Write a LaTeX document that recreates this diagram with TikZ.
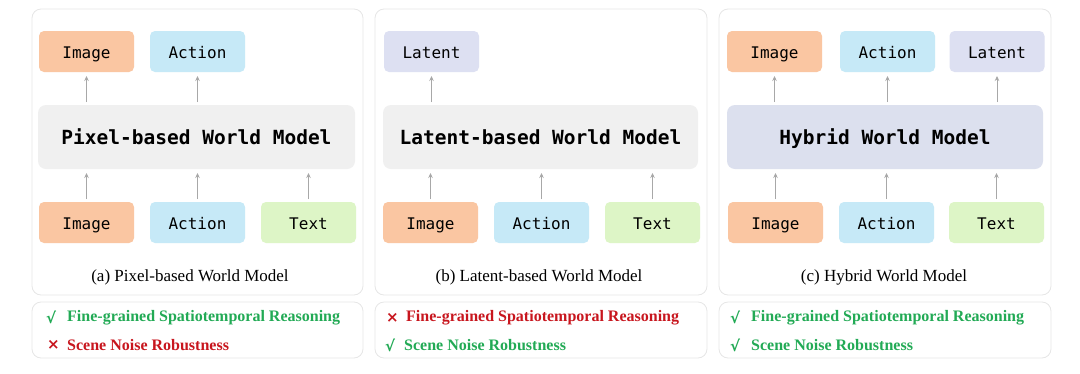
\documentclass[tikz,border=0pt]{standalone}
\usepackage{fontspec}
\setmainfont{Liberation Serif}
\setmonofont{DejaVu Sans Mono}
\newfontfamily\symfont{DejaVu Sans}
\usetikzlibrary{arrows.meta}
\definecolor{cimg}{HTML}{FAC6A2}
\definecolor{cact}{HTML}{C6E9F7}
\definecolor{ctxt}{HTML}{DDF5C6}
\definecolor{clat}{HTML}{DDE0F2}
\definecolor{cmod}{HTML}{F0F0F0}
\definecolor{chyb}{HTML}{DCE0EE}
\definecolor{cpanel}{HTML}{E6E6E6}
\definecolor{carr}{HTML}{A8A8A8}
\definecolor{cgood}{HTML}{22AA55}
\definecolor{cbad}{HTML}{C8161E}
\tikzset{
  panel/.style={draw=cpanel, line width=0.8pt, fill=white, rounded corners=9pt},
  box/.style={rounded corners=5pt, minimum width=95pt, minimum height=41pt, inner sep=0pt, outer sep=0pt,
    text height=16pt, text depth=2pt, font=\fontsize{16}{16}\selectfont\ttfamily},
  model/.style={rounded corners=8pt, minimum height=64pt, inner sep=0pt, outer sep=0pt,
    text height=18pt, text depth=2.8pt, font=\fontsize{19.5}{19.5}\selectfont\ttfamily\bfseries},
  arr/.style={draw=carr, line width=0.9pt, -{Stealth[length=5pt,width=4.5pt]}, shorten >=4pt, shorten <=3pt},
  captxt/.style={font=\fontsize{17}{17}\selectfont},
  prop/.style={anchor=west, inner sep=0pt, font=\fontsize{16}{16}\selectfont\bfseries},
  marksym/.style={anchor=west, inner sep=0pt, font=\fontsize{15}{15}\selectfont\symfont\bfseries}
}
\begin{document}
\begin{tikzpicture}[x=1pt,y=-1pt]
\useasboundingbox (0,0) rectangle (1080,373);
% panels
\draw[panel] (32,9) rectangle (363,295);
\draw[panel] (32,302) rectangle (363,358);
\draw[panel] (375,9) rectangle (707,295);
\draw[panel] (375,302) rectangle (707,358);
\draw[panel] (719,9) rectangle (1051,295);
\draw[panel] (719,302) rectangle (1051,358);

% ---- (a)
\node[box, fill=cimg] (ao1) at (86.5,51.5) {Image};
\node[box, fill=cact] (ao2) at (197.5,51.5) {Action};
\node[model, fill=cmod, minimum width=317pt] (am) at (196.5,137) {Pixel-based World Model};
\node[box, fill=cimg] (ai1) at (86.5,222.5) {Image};
\node[box, fill=cact] (ai2) at (197.5,222.5) {Action};
\node[box, fill=ctxt] (ai3) at (308.5,222.5) {Text};
\draw[arr] (ao1.south |- am.north) -- (ao1.south);
\draw[arr] (ao2.south |- am.north) -- (ao2.south);
\draw[arr] (ai1.north) -- (ai1.north |- am.south);
\draw[arr] (ai2.north) -- (ai2.north |- am.south);
\draw[arr] (ai3.north) -- (ai3.north |- am.south);
\node[captxt] (acap) at (190,277) {(a) Pixel-based World Model};
\node[marksym, text=cgood] (am1) at (46,317.5) {√};
\node[prop, text=cgood] (ap1) at (67,317.5) {Fine-grained Spatiotemporal Reasoning};
\node[marksym, text=cbad] (am2) at (47,345) {×};
\node[prop, text=cbad] (ap2) at (67,345) {Scene Noise Robustness};

% ---- (b)
\node[box, fill=clat] (bo1) at (431.5,51.5) {Latent};
\node[model, fill=cmod, minimum width=315pt] (bm) at (540.5,137) {Latent-based World Model};
\node[box, fill=cimg] (bi1) at (430.5,222.5) {Image};
\node[box, fill=cact] (bi2) at (541.5,222.5) {Action};
\node[box, fill=ctxt] (bi3) at (652.5,222.5) {Text};
\draw[arr] (bo1.south |- bm.north) -- (bo1.south);
\draw[arr] (bi1.north) -- (bi1.north |- bm.south);
\draw[arr] (bi2.north) -- (bi2.north |- bm.south);
\draw[arr] (bi3.north) -- (bi3.north |- bm.south);
\node[captxt] (bcap) at (539,277) {(b) Latent-based World Model};
\node[marksym, text=cbad] (bm1) at (386,317.5) {×};
\node[prop, text=cbad] (bp1) at (406,317.5) {Fine-grained Spatiotemporal Reasoning};
\node[marksym, text=cgood] (bm2) at (385,345) {√};
\node[prop, text=cgood] (bp2) at (404,345) {Scene Noise Robustness};

% ---- (c)
\node[box, fill=cimg] (co1) at (774.5,51.5) {Image};
\node[box, fill=cact] (co2) at (887.5,51.5) {Action};
\node[box, fill=clat] (co3) at (997,51.5) {Latent};
\node[model, fill=chyb, minimum width=316pt] (cm) at (885,137) {Hybrid World Model};
\node[box, fill=cimg] (ci1) at (775.5,222.5) {Image};
\node[box, fill=cact] (ci2) at (886.5,222.5) {Action};
\node[box, fill=ctxt] (ci3) at (996.5,222.5) {Text};
\draw[arr] (co1.south |- cm.north) -- (co1.south);
\draw[arr] (co2.south |- cm.north) -- (co2.south);
\draw[arr] (co3.south |- cm.north) -- (co3.south);
\draw[arr] (ci1.north) -- (ci1.north |- cm.south);
\draw[arr] (ci2.north) -- (ci2.north |- cm.south);
\draw[arr] (ci3.north) -- (ci3.north |- cm.south);
\node[captxt] (ccap) at (884,277) {(c) Hybrid World Model};
\node[marksym, text=cgood] (cm1) at (730,317.5) {√};
\node[prop, text=cgood] (cp1) at (751,317.5) {Fine-grained Spatiotemporal Reasoning};
\node[marksym, text=cgood] (cm2) at (730,345) {√};
\node[prop, text=cgood] (cp2) at (751,345) {Scene Noise Robustness};
\end{tikzpicture}
\end{document}
